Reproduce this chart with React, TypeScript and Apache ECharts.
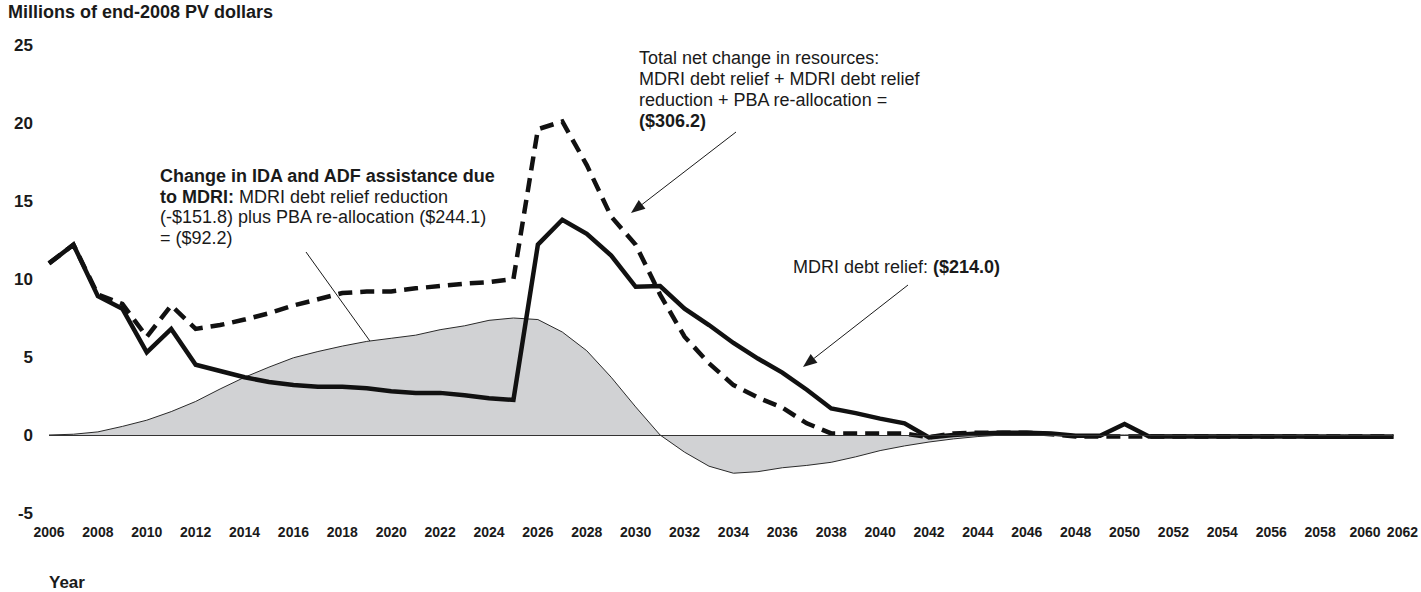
import React, { useEffect, useRef } from 'react';
import * as echarts from 'echarts';

// Categories: one per year, 2006..2061 (the last tick is printed as 2062 in the source)
const years: string[] = Array.from({ length: 56 }, (_, i) => String(2006 + i));
const finalTickLabel = '2062';

// MDRI debt relief (solid line), millions of end-2008 PV dollars
const mdriDebtRelief: number[] = [
  11.0, 12.2, 8.9, 8.1, 5.3, 6.8, 4.5, 4.1, 3.7, 3.4, // 2006-2015
  3.2, 3.1, 3.1, 3.0, 2.8, 2.7, 2.7, 2.55, 2.35, 2.25, // 2016-2025
  12.2, 13.8, 12.9, 11.5, 9.5, 9.55, 8.1, 7.05, 5.9, 4.9, // 2026-2035
  4.0, 2.9, 1.7, 1.4, 1.05, 0.75, -0.15, 0.0, 0.1, 0.15, // 2036-2045
  0.15, 0.1, -0.05, -0.05, 0.7, -0.1, -0.1, -0.1, -0.1, -0.1, // 2046-2055
  -0.1, -0.1, -0.12, -0.12, -0.12, -0.12, // 2056-2061
];

// Total net change in resources (dashed line)
const totalNetChange: number[] = [
  11.0, 12.2, 9.0, 8.4, 6.3, 8.3, 6.8, 7.05, 7.4, 7.8, // 2006-2015
  8.3, 8.7, 9.1, 9.2, 9.2, 9.4, 9.55, 9.7, 9.8, 10.0, // 2016-2025
  19.6, 20.1, 17.3, 14.0, 12.2, 9.0, 6.3, 4.6, 3.2, 2.4, // 2026-2035
  1.75, 0.75, 0.1, 0.1, 0.1, 0.1, -0.15, 0.1, 0.15, 0.15, // 2036-2045
  0.15, 0.05, -0.1, -0.1, -0.1, -0.1, -0.1, -0.1, -0.1, -0.1, // 2046-2055
  -0.1, -0.1, -0.1, -0.1, -0.1, -0.1, // 2056-2061
];

// Change in IDA and ADF assistance due to MDRI (grey area)
const idaAdfChange: number[] = [
  0, 0.05, 0.2, 0.55, 0.95, 1.5, 2.15, 2.95, 3.7, 4.35, // 2006-2015
  4.95, 5.35, 5.7, 6.0, 6.2, 6.4, 6.75, 7.0, 7.35, 7.5, // 2016-2025
  7.4, 6.6, 5.4, 3.7, 1.8, 0.0, -1.1, -2.0, -2.45, -2.35, // 2026-2035
  -2.1, -1.95, -1.75, -1.4, -1.0, -0.7, -0.45, -0.25, -0.1, 0, // 2036-2045
  0, 0, 0, 0, 0, 0, 0, 0, 0, 0, // 2046-2055
  0, 0, 0, 0, 0, 0, // 2056-2061
];

const Y_MIN = -5;
const Y_MAX = 25;
const Y_STEP = 5;

const FONT = '"Liberation Sans", Arial, Helvetica, sans-serif';
const INK = '#1a1a1a';

function arrow(id: string, x1: number, y1: number, x2: number, y2: number) {
  const dx = x2 - x1;
  const dy = y2 - y1;
  const len = Math.sqrt(dx * dx + dy * dy);
  const ux = dx / len;
  const uy = dy / len;
  const headLen = 14;
  const headHalf = 5.5;
  const bx = x2 - ux * headLen;
  const by = y2 - uy * headLen;
  return [
    {
      id: id + '-shaft',
      type: 'line',
      shape: { x1, y1, x2: bx, y2: by },
      style: { stroke: INK, lineWidth: 1 },
      silent: true,
    },
    {
      id: id + '-head',
      type: 'polygon',
      shape: {
        points: [
          [x2, y2],
          [bx - uy * headHalf, by + ux * headHalf],
          [bx + uy * headHalf, by - ux * headHalf],
        ],
      },
      style: { fill: INK },
      silent: true,
    },
  ];
}

export default function App() {
  const ref = useRef<HTMLDivElement>(null);

  useEffect(() => {
    if (!ref.current) return;
    const chart = echarts.init(ref.current, undefined, { renderer: 'svg' });
    const last = years.length - 1;

    const graphic: any[] = [
      {
        id: 'title',
        type: 'text',
        x: 8,
        y: 3,
        style: {
          text: 'Millions of end-2008 PV dollars',
          font: `bold 18px ${FONT}`,
          fill: INK,
        },
      },
      {
        id: 'xname',
        type: 'text',
        x: 49,
        y: 574,
        style: {
          text: 'Year',
          font: `bold 17px ${FONT}`,
          fill: INK,
        },
      },
      {
        id: 'noteA',
        type: 'text',
        x: 160,
        y: 166,
        style: {
          text:
            '{b|Change in IDA and ADF assistance due}\n{b|to MDRI:} MDRI debt relief reduction\n(-$151.8) plus PBA re-allocation ($244.1)\n= ($92.2)',
          font: `18px ${FONT}`,
          fill: INK,
          lineHeight: 20.5,
          rich: {
            b: { fontWeight: 'bold', fontSize: 18, fontFamily: FONT, fill: INK, lineHeight: 20.5 },
          },
        },
      },
      {
        id: 'noteB',
        type: 'text',
        x: 639,
        y: 47,
        style: {
          text:
            'Total net change in resources:\nMDRI debt relief + MDRI debt relief\nreduction + PBA re-allocation =\n{b|($306.2)}',
          font: `18px ${FONT}`,
          fill: INK,
          lineHeight: 21,
          rich: {
            b: { fontWeight: 'bold', fontSize: 18, fontFamily: FONT, fill: INK, lineHeight: 21 },
          },
        },
      },
      {
        id: 'noteC',
        type: 'text',
        x: 793,
        y: 256,
        style: {
          text: 'MDRI debt relief: {b|($214.0)}',
          font: `18px ${FONT}`,
          fill: INK,
          lineHeight: 21,
          rich: {
            b: { fontWeight: 'bold', fontSize: 18, fontFamily: FONT, fill: INK, lineHeight: 21 },
          },
        },
      },
      ...arrow('arrowA', 306, 252, 385, 362),
      ...arrow('arrowB', 736, 132, 631, 213),
      ...arrow('arrowC', 908, 285, 803, 367),
    ];

    const labelBase = { color: INK, fontFamily: FONT, fontWeight: 'bold', fontSize: 14 };

    const option: any = {
      animation: false,
      backgroundColor: '#ffffff',
      grid: { left: 49, right: 26, top: 45, bottom: 79, containLabel: false },
      xAxis: {
        type: 'category',
        data: years,
        boundaryGap: false,
        axisLine: { show: false, onZero: false },
        axisTick: { show: false },
        splitLine: { show: false },
        axisLabel: {
          margin: 12,
          interval: (index: number) => index % 2 === 0 || index === last,
          formatter: (value: string, index: number) => {
            if (index === last) return '{last|' + finalTickLabel + '}';
            if (index === last - 1) return '{prev|' + value + '}';
            return value;
          },
          ...labelBase,
          rich: {
            last: { ...labelBase, padding: [0, 0, 0, 18] },
            prev: { ...labelBase, padding: [0, 8, 0, 0] },
          },
        },
      },
      yAxis: {
        type: 'value',
        min: Y_MIN,
        max: Y_MAX,
        interval: Y_STEP,
        axisLine: { show: false },
        axisTick: { show: false },
        splitLine: { show: false },
        axisLabel: {
          margin: 16,
          color: INK,
          fontFamily: FONT,
          fontWeight: 'bold',
          fontSize: 17,
        },
      },
      series: [
        {
          name: 'Change in IDA and ADF assistance due to MDRI',
          type: 'line',
          data: idaAdfChange,
          symbol: 'none',
          lineStyle: { color: '#2a2a2a', width: 1 },
          areaStyle: { color: '#d1d2d4', opacity: 1 },
          z: 1,
          markLine: {
            silent: true,
            symbol: 'none',
            label: { show: false },
            lineStyle: { color: '#333333', width: 1, type: 'solid' },
            data: [{ yAxis: 0 }],
          },
        },
        {
          name: 'Total net change in resources',
          type: 'line',
          data: totalNetChange,
          symbol: 'none',
          lineStyle: { color: '#111111', width: 4.5, type: [14, 8], join: 'miter' },
          z: 3,
        },
        {
          name: 'MDRI debt relief',
          type: 'line',
          data: mdriDebtRelief,
          symbol: 'none',
          lineStyle: { color: '#111111', width: 4.5, join: 'miter' },
          z: 4,
        },
      ],
      graphic,
    };

    chart.setOption(option);

    return () => {
      chart.dispose();
    };
  }, []);

  return (
    <div
      ref={ref}
      style={{ position: 'fixed', left: 0, top: 0, width: 1421, height: 592, background: '#fff' }}
    />
  );
}
